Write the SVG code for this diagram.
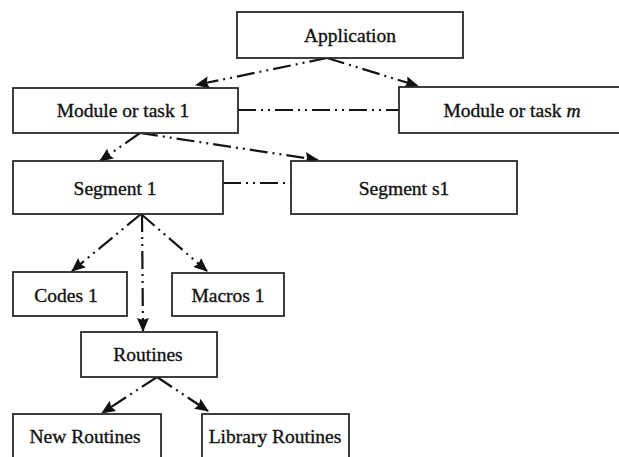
<svg xmlns="http://www.w3.org/2000/svg" width="619" height="457" viewBox="0 0 619 457">
  <style>
    .box { fill: #ffffff; stroke: #2a2a2a; stroke-width: 1.8; }
    .lbl { font-family: "Liberation Serif", "Times New Roman", serif; font-size: 19.5px; fill: #111; stroke: #111; stroke-width: 0.35; text-anchor: middle; dominant-baseline: central; }
    .link { fill: none; stroke: #151515; stroke-width: 2.2; stroke-dasharray: 18 5 2 5 2 5; }
    .arrow { marker-end: url(#head); }
  </style>
  <defs>
    <marker id="head" viewBox="0 0 14 12" refX="13" refY="6" markerWidth="14" markerHeight="12" markerUnits="userSpaceOnUse" orient="auto">
      <path d="M0,0 L14,6 L0,12 L2,6 Z" fill="#111"/>
    </marker>
  </defs>
  <rect width="619" height="457" fill="#ffffff"/>

  <g id="connectors">
    <path class="link arrow" d="M327,58 L196,85"/>
    <path class="link arrow" d="M327,58 L418,86"/>
    <path class="link" d="M238,110 L399,110"/>
    <path class="link arrow" d="M140,133 L100,161"/>
    <path class="link arrow" d="M140,133 L318,160"/>
    <path class="link" d="M223,183 L291,183"/>
    <path class="link arrow" d="M141,214 L72,271"/>
    <path class="link arrow" d="M141,214 L207,271"/>
    <path class="link arrow" d="M142,214 L143,331"/>
    <path class="link arrow" d="M157,377 L102,413"/>
    <path class="link arrow" d="M157,377 L208,411"/>
  </g>

  <g id="application">
    <rect class="box" x="237" y="12" width="226" height="46"/>
    <text class="lbl" x="350" y="35">Application</text>
  </g>
  <g id="module1">
    <rect class="box" x="13" y="88" width="225" height="45"/>
    <text class="lbl" x="123" y="110">Module or task 1</text>
  </g>
  <g id="modulem">
    <rect class="box" x="399" y="87" width="240" height="46"/>
    <text class="lbl" x="512" y="110">Module or task <tspan font-style="italic">m</tspan></text>
  </g>
  <g id="segment1">
    <rect class="box" x="13" y="161" width="210" height="53"/>
    <text class="lbl" x="115" y="188">Segment 1</text>
  </g>
  <g id="segments1">
    <rect class="box" x="291" y="161" width="226" height="53"/>
    <text class="lbl" x="404" y="188">Segment s1</text>
  </g>
  <g id="codes1">
    <rect class="box" x="13" y="272" width="114" height="44"/>
    <text class="lbl" x="66" y="295">Codes 1</text>
  </g>
  <g id="macros1">
    <rect class="box" x="172" y="273" width="112" height="43"/>
    <text class="lbl" x="228" y="295">Macros 1</text>
  </g>
  <g id="routines">
    <rect class="box" x="81" y="332" width="136" height="45"/>
    <text class="lbl" x="148" y="354">Routines</text>
  </g>
  <g id="newroutines">
    <rect class="box" x="13" y="414" width="148" height="60"/>
    <text class="lbl" x="85" y="436">New Routines</text>
  </g>
  <g id="libraryroutines">
    <rect class="box" x="202" y="414" width="147" height="60"/>
    <text class="lbl" x="275" y="436">Library Routines</text>
  </g>
</svg>
